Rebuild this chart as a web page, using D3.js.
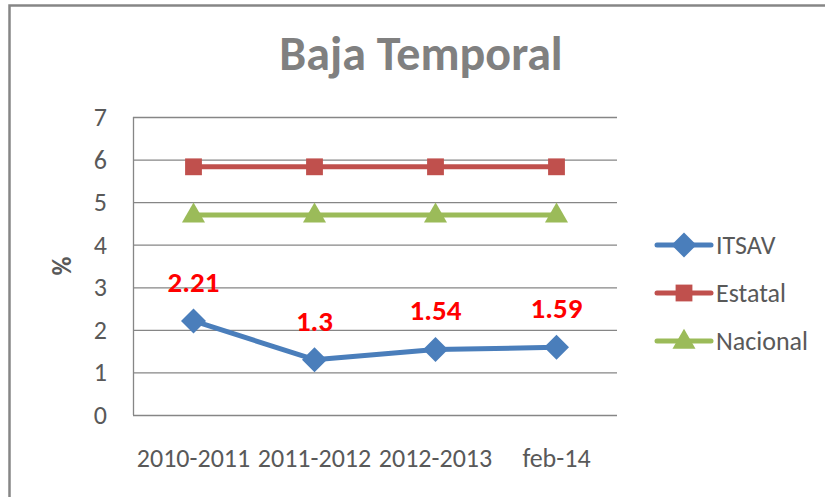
<!DOCTYPE html>
<html>
<head>
<meta charset="utf-8">
<script src="https://cdn.jsdelivr.net/npm/d3@7"></script>
<style>
  body { margin: 0; background: #fff; }
  svg { display: block; }
</style>
</head>
<body>
<script>
const categories = ["2010-2011", "2011-2012", "2012-2013", "feb-14"];
const itsav = [2.21, 1.3, 1.54, 1.59];
const estatal = [5.83, 5.83, 5.83, 5.83];
const nacional = [4.7, 4.7, 4.7, 4.7];
const yTicks = [0, 1, 2, 3, 4, 5, 6, 7];

const series = [
  {name: "ITSAV", values: itsav, color: "#4a7ebb", symbol: "diamond"},
  {name: "Estatal", values: estatal, color: "#c0504d", symbol: "square"},
  {name: "Nacional", values: nacional, color: "#9bbb59", symbol: "triangle"}
];

const width = 825, height = 497;
const font = "Carlito, 'Open Sans', 'Noto Sans', sans-serif";

const svg = d3.select("body").append("svg")
    .attr("width", width)
    .attr("height", height)
    .style("font-family", font);

// outer chart border
svg.append("path")
    .attr("d", `M9.5,${height + 2}V5.5H${width + 2}`)
    .attr("fill", "none")
    .attr("stroke", "#868686")
    .attr("stroke-width", 2.5);

svg.append("text")
    .attr("x", 421)
    .attr("y", 70)
    .attr("text-anchor", "middle")
    .attr("font-size", 48)
    .attr("font-weight", "bold")
    .attr("fill", "#808080")
    .text("Baja Temporal");

const x = d3.scaleBand().domain(categories).range([133, 617]);
const y = d3.scaleLinear().domain([0, 7]).range([415, 117]);

// gridlines
svg.append("g")
  .selectAll("line")
  .data(yTicks)
  .join("line")
    .attr("x1", 133).attr("x2", 617)
    .attr("y1", d => y(d) + 0.5).attr("y2", d => y(d) + 0.5)
    .attr("stroke", "#868686")
    .attr("stroke-width", 1.3);

// y axis line
svg.append("line")
    .attr("x1", 133.5).attr("x2", 133.5)
    .attr("y1", y(7)).attr("y2", y(0))
    .attr("stroke", "#868686")
    .attr("stroke-width", 1.3);

svg.append("g")
  .selectAll("text")
  .data(yTicks)
  .join("text")
    .attr("x", 107)
    .attr("y", d => y(d) + 9)
    .attr("text-anchor", "end")
    .attr("font-size", 26)
    .attr("fill", "#595959")
    .text(d => d);

svg.append("text")
    .attr("transform", "translate(71,266) rotate(-90)")
    .attr("text-anchor", "middle")
    .attr("font-size", 26)
    .attr("font-weight", "bold")
    .attr("fill", "#595959")
    .text("%");

svg.append("g")
  .selectAll("text")
  .data(categories)
  .join("text")
    .attr("x", d => x(d) + x.bandwidth() / 2)
    .attr("y", 467)
    .attr("text-anchor", "middle")
    .attr("font-size", 26)
    .attr("fill", "#595959")
    .text(d => d);

const cx = i => x(categories[i]) + x.bandwidth() / 2;

const symbolPath = {
  diamond: d3.symbol().type(d3.symbolDiamond2).size(400),
  square: d3.symbol().type(d3.symbolSquare2).size(360),
  triangle: d3.symbol().type(d3.symbolTriangle2).size(380)
};

const line = d3.line().x((d, i) => cx(i)).y(d => y(d));

series.slice().reverse().forEach(s => {
  const g = svg.append("g");
  g.append("path")
      .attr("d", line(s.values))
      .attr("fill", "none")
      .attr("stroke", s.color)
      .attr("stroke-width", 5)
      .attr("stroke-linejoin", "round");
  g.selectAll("path.m")
    .data(s.values)
    .join("path")
      .attr("class", "m")
      .attr("transform", (d, i) => `translate(${cx(i)},${y(d) + (s.symbol === "triangle" ? 1 : 0)})`)
      .attr("d", symbolPath[s.symbol])
      .attr("fill", s.color);
});

// data labels for ITSAV
svg.append("g")
  .selectAll("text")
  .data(itsav)
  .join("text")
    .attr("x", (d, i) => cx(i))
    .attr("y", d => y(d) - 29)
    .attr("text-anchor", "middle")
    .attr("font-size", 29)
    .attr("font-weight", "bold")
    .attr("fill", "#ff0000")
    .text(d => d);

// legend
const legend = svg.append("g")
  .selectAll("g")
  .data(series)
  .join("g")
    .attr("transform", (d, i) => `translate(657,${245 + i * 48})`);

legend.append("line")
    .attr("x1", 0).attr("x2", 54)
    .attr("stroke", d => d.color)
    .attr("stroke-width", 5)
    .attr("stroke-linecap", "round");

legend.append("path")
    .attr("d", d => symbolPath[d.symbol]())
    .attr("transform", d => `translate(27,${d.symbol === "triangle" ? 1 : 0})`)
    .attr("fill", d => d.color);

legend.append("text")
    .attr("x", 59)
    .attr("y", 9)
    .attr("font-size", 26)
    .attr("fill", "#595959")
    .text(d => d.name);
</script>
</body>
</html>
